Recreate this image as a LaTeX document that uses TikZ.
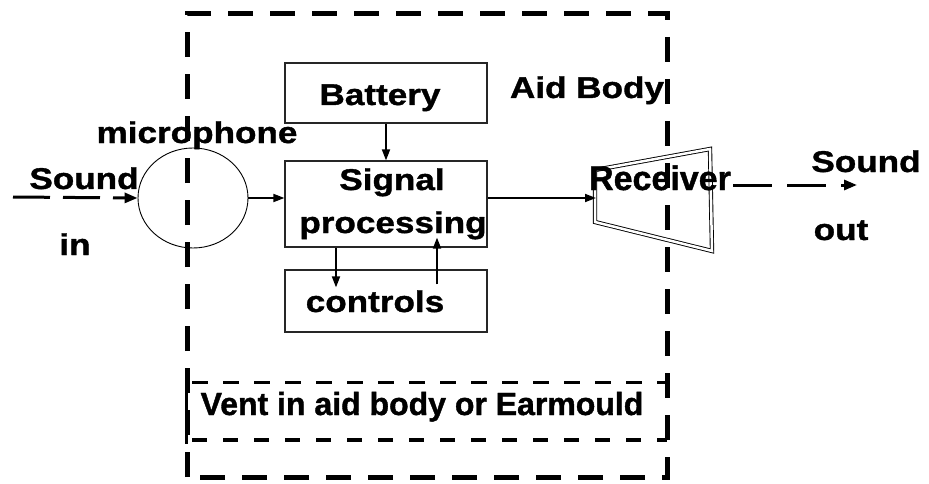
\documentclass[tikz,border=0pt]{standalone}
\usepackage{fontspec}
\setmainfont{Liberation Sans}
\newfontfamily\widefont{Liberation Sans}[UprightFont=* Bold,FakeStretch=1.17,FakeBold=1.2]
\newfontfamily\heavyfont{Liberation Sans}[UprightFont=* Bold,FakeBold=1.2]
\usetikzlibrary{arrows.meta,shapes.geometric,calc}
\begin{document}
\begin{tikzpicture}[x=1pt,y=-1pt,
 lbl/.style={anchor=base,inner sep=0pt,font=\widefont\fontsize{30}{36}\selectfont},
 box/.style={draw=black!85,line width=1.2pt,minimum width=202pt,inner sep=0pt},
 arr/.style={line width=1.8pt,-{Triangle[length=11pt,width=8pt]}},
 sarr/.style={line width=3pt,dash pattern=on 37pt off 13pt,-{Triangle[length=13pt,width=10pt]}},
]
\useasboundingbox (0,0) rectangle (929,484);
% boxes
\node[box,minimum height=60pt] (bat) at (386,93) {};
\node[box,minimum height=86pt] (sp) at (386,204) {};
\node[box,minimum height=62pt] (ctrl) at (386,301) {};
\node[draw,ellipse,line width=0.9pt,minimum width=110pt,minimum height=100pt,inner sep=0pt] (mic) at (193,198) {};
% receiver
\draw[double=white,double distance=2.5pt,line width=0.9pt,line join=miter] (595,170) -- (710,149) -- (712,251) -- (595,222) -- cycle;
\coordinate (recin) at (596,198);
% outer dashed aid body
\draw[line width=5pt,dash pattern=on 25pt off 17pt] (187,477) -- (187,14) -- (667,14) -- (667,477) -- cycle;
% vent
\draw[line width=3pt,dash pattern=on 16pt off 15pt] (192,382) -- (667,382);
\draw[line width=3.5pt,dash pattern=on 15pt off 16pt] (192,440) -- (667,440);
\draw[line width=3pt] (186,379) -- (186,444);
% arrows
\draw[arr] (bat.south) -- (sp.north);
\draw[arr] ($(sp.south)+(-50,0)$) -- ($(ctrl.north)+(-50,18)$);
\draw[arr] ($(ctrl.north)+(51,15)$) -- ($(sp.south)+(51,-10)$);
\draw[arr] (mic.east) -- (mic.east -| sp.west);
\draw[arr] (sp.east |- recin) -- (recin);
\coordinate (sinstart) at (13,197);
\draw[sarr] (sinstart) -- (mic.west);
\coordinate (soutA) at (733,185);
\coordinate (soutB) at (857,185);
\draw[sarr,dash pattern=on 39pt off 15pt] (soutA) -- (soutB);
% labels
\node[lbl] (tbat) at (380,105) {Battery};
\node[lbl] (taid) at (587,98) {Aid Body};
\node[lbl] (tmic) at (197,143) {microphone};
\node[lbl] (tsig) at (392,190) {Signal};
\node[lbl] (tproc) at (393,233) {processing};
\node[lbl] (tctrl) at (375,312) {controls};
\node[lbl] (tsin) at (84,189) {Sound};
\node[lbl] (tin) at (75,255) {in};
\node[lbl] (tsout) at (866,172) {Sound};
\node[lbl] (tout) at (841,240) {out};
\node[lbl,font=\heavyfont\fontsize{34}{40}\selectfont] (trec) at (660,190) {Receiver};
\node[lbl,font=\heavyfont\fontsize{32}{38}\selectfont] (tvent) at (422,415) {Vent in aid body or Earmould};
\end{tikzpicture}
\end{document}
